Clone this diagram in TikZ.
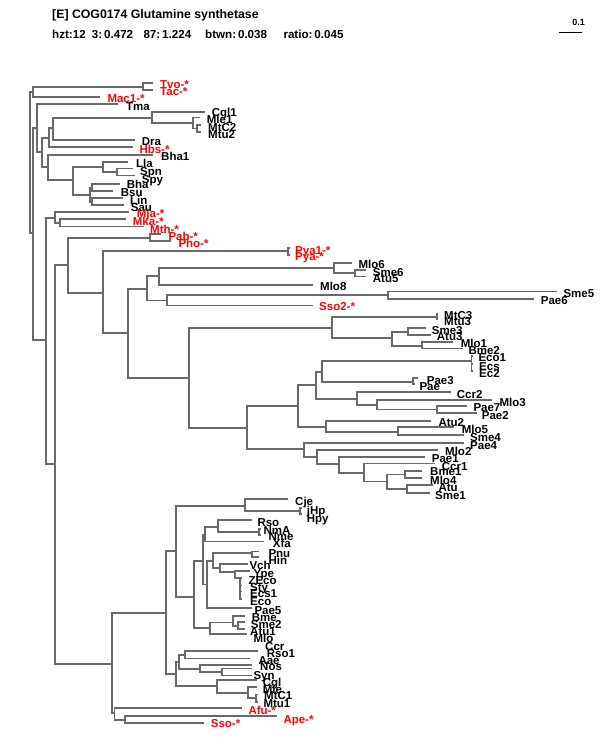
\documentclass[tikz,border=0pt]{standalone}
\usepackage{fontspec}
\setmainfont{Liberation Sans}
\definecolor{brc}{RGB}{105,105,105}
\definecolor{lred}{RGB}{255,0,0}
\tikzset{
  br/.style={draw=brc, line width=1.7pt},
  lab/.style={anchor=base west, inner sep=0pt, font=\bfseries\fontsize{11.5}{12}\selectfont},
  labr/.style={lab, text=lred},
  hdr/.style={anchor=base west, inner sep=0pt, font=\bfseries\fontsize{12.3}{14}\selectfont},
  hds/.style={anchor=base west, inner sep=0pt, font=\bfseries\fontsize{11.6}{14}\selectfont}
}
% internal node: parent, id, x, y
\newcommand\inode[4]{\coordinate (#2) at (#3,#4); \draw[br] (#1) |- (#2);}
% leaf: parent, id, xend, y, labelx, labelcy, text, style
\newcommand\leaf[8]{\coordinate (#2) at (#3,#4); \draw[br] (#1) |- (#2); \node[#8] (t#2) at (#5,#6+4) {#7};}
\begin{document}
\begin{tikzpicture}[x=1pt,y=-1pt]
\useasboundingbox (0,0) rectangle (600,750);
% header
\node[hdr] (title) at (52,18.3) {[E] COG0174 Glutamine synthetase};
\node[hds] (s1) at (52,38.3) {hzt:12};
\node[hds] (s2) at (91.7,38.3) {3:\,0.472};
\node[hds] (s3) at (143.3,38.3) {87:\,1.224};
\node[hds] (s4) at (205,38.3) {btwn:\,0.038};
\node[hds] (s5) at (283.3,38.3) {ratio:\,0.045};
\coordinate (sbA) at (559,32.3);
\coordinate (sbB) at (581.7,32.3);
\draw[black, line width=0.9pt] (sbA) -- (sbB);
\node[anchor=base east, inner sep=0pt, font=\bfseries\fontsize{9}{10}\selectfont] (sbl) at (585,25) {0.1};
% tree
\coordinate (r) at (30,162);
\inode{r}{a1}{33.3}{91.7}
\inode{a1}{tt}{142.7}{86.7}
\leaf{tt}{Tvo}{153}{83}{160}{84.3}{Tvo-*}{labr}
\leaf{tt}{Tac}{153}{90}{160}{91.5}{Tac-*}{labr}
\leaf{a1}{Mac1}{100}{96.7}{107.3}{98}{Mac1-*}{labr}
\inode{r}{a2}{33.3}{233}
\inode{a2}{a3}{36.7}{128}
\leaf{a3}{Tma}{118.3}{104.3}{126}{106.7}{Tma}{lab}
\inode{a3}{a4}{41.7}{151.7}
\inode{a4}{a5}{49.3}{138.3}
\inode{a5}{a6}{53.3}{128.3}
\inode{a6}{a7}{151.7}{117.7}
\leaf{a7}{Cgl1}{205}{111.7}{211.7}{112.8}{Cgl1}{lab}
\inode{a7}{a7b}{193.3}{123.3}
\leaf{a7b}{Mle1}{200}{117.5}{206.7}{119}{Mle1}{lab}
\inode{a7b}{a7c}{197}{128.5}
\leaf{a7c}{MtC2}{201}{125}{208}{127.3}{MtC2}{lab}
\leaf{a7c}{Mtu2}{201}{132}{208}{134.5}{Mtu2}{lab}
\leaf{a6}{Dra}{135}{140}{141.7}{141.7}{Dra}{lab}
\leaf{a5}{Hbs}{133}{146.7}{139.3}{149}{Hbs-*}{labr}
\inode{a4}{a8}{48.3}{166.7}
\leaf{a8}{Bha1}{153.3}{154.7}{161}{156.3}{Bha1}{lab}
\inode{a8}{a9}{73.3}{180}
\inode{a9}{a10}{103.3}{166.7}
\leaf{a10}{Lla}{128.3}{161.7}{136}{163.3}{Lla}{lab}
\inode{a10}{a11}{116.7}{171.7}
\leaf{a11}{Spn}{133}{168.5}{140}{171.7}{Spn}{lab}
\leaf{a11}{Spy}{134.7}{175.5}{141.7}{179.3}{Spy}{lab}
\inode{a9}{a12}{90}{195}
\inode{a12}{a13}{91.7}{187.7}
\leaf{a13}{Bha}{120}{184}{126.7}{184.3}{Bha}{lab}
\leaf{a13}{Bsu}{113.3}{191.3}{120.7}{192.7}{Bsu}{lab}
\inode{a12}{a14}{91.7}{201.7}
\leaf{a14}{Lin}{123.3}{198.3}{130}{200}{Lin}{lab}
\leaf{a14}{Sau}{124}{205}{130.7}{207.3}{Sau}{lab}
\inode{a2}{a20}{46}{340}
\inode{a20}{a21}{55}{217.7}
\leaf{a21}{Mja}{129}{212}{136.7}{213.3}{Mja-*}{labr}
\inode{a21}{a22}{60}{223}
\leaf{a22}{Mka}{126}{219.3}{132.7}{221}{Mka-*}{labr}
\leaf{a22}{Mth}{143.5}{226.5}{150}{229}{Mth-*}{labr}
\inode{a20}{a30}{55}{464}
\inode{a30}{a31}{68.3}{265}
\inode{a31}{a32}{150}{237.7}
\leaf{a32}{Pab}{161.3}{234.3}{168.3}{236.5}{Pab-*}{labr}
\leaf{a32}{Pho}{171.3}{241}{178.3}{243}{Pho-*}{labr}
\inode{a31}{a33}{103}{293}
\inode{a33}{a33p}{288.3}{251.3}
\leaf{a33p}{Pya1}{289.5}{248}{295}{250}{Pya1-*}{labr}
\leaf{a33p}{Pya}{289.5}{254.7}{295}{256.7}{Pya-*}{labr}
\inode{a33}{a34}{128}{333}
\inode{a34}{a35}{147}{289}
\inode{a35}{a36}{159}{276}
\inode{a36}{a37}{334.3}{267.7}
\leaf{a37}{Mlo6}{351.7}{263.3}{358.3}{264.5}{Mlo6}{lab}
\inode{a37}{a37b}{355}{273.3}
\leaf{a37b}{Sme6}{366}{270.3}{372.7}{272.3}{Sme6}{lab}
\leaf{a37b}{Atu5}{366}{276.5}{372.7}{278.3}{Atu5}{lab}
\leaf{a36}{Mlo8}{313.3}{284.7}{320}{286.7}{Mlo8}{lab}
\inode{a35}{a38}{167}{300.5}
\inode{a38}{a39}{388.3}{295}
\leaf{a39}{Sme5}{556.8}{291.5}{563.3}{293.3}{Sme5}{lab}
\leaf{a39}{Pae6}{534}{298.7}{540.7}{300.7}{Pae6}{lab}
\leaf{a38}{Sso2}{312.5}{305.5}{319}{306.7}{Sso2-*}{labr}
\inode{a34}{a40}{189}{378}
\inode{a40}{a41}{331.7}{327.7}
\inode{a41}{a41b}{436.7}{316.7}
\leaf{a41b}{MtC3}{438}{314}{444}{315}{MtC3}{lab}
\leaf{a41b}{Mtu3}{438}{319.5}{444}{321.7}{Mtu3}{lab}
\inode{a41}{a42}{391.7}{337.7}
\inode{a42}{a43}{408.3}{331.7}
\leaf{a43}{Sme3}{426}{328.3}{431.7}{330}{Sme3}{lab}
\leaf{a43}{Atu3}{431}{334.7}{436.7}{336.7}{Atu3}{lab}
\inode{a42}{a44}{421.7}{345.7}
\leaf{a44}{Mlo1}{453}{342.3}{460.7}{343.3}{Mlo1}{lab}
\leaf{a44}{Bme2}{463}{348.5}{468.3}{350.7}{Bme2}{lab}
\inode{a40}{a50}{247.3}{427.7}
\inode{a50}{a51}{298.3}{405.7}
\inode{a51}{a52}{316}{385}
\inode{a52}{a53}{322.3}{371.7}
\inode{a53}{a53b}{471.5}{361}
\leaf{a53b}{Eco1}{473}{356}{478.3}{357.7}{Eco1}{lab}
\leaf{a53b}{Ecs}{473}{364}{479}{366}{Ecs}{lab}
\leaf{a53b}{Ec2}{473}{371}{479}{373.3}{Ec2}{lab}
\inode{a53}{a54}{413.3}{381.7}
\leaf{a54}{Pae3}{418.3}{377.7}{426.7}{380}{Pae3}{lab}
\leaf{a54}{Pae}{414.5}{384.3}{419.3}{386.7}{Pae}{lab}
\inode{a52}{a55}{356.7}{399}
\leaf{a55}{Ccr2}{451}{391.7}{456.7}{394.3}{Ccr2}{lab}
\inode{a55}{a55b}{376.7}{405}
\leaf{a55b}{Mlo3}{492}{400.3}{499.3}{402.3}{Mlo3}{lab}
\inode{a55b}{a55c}{436.7}{409.5}
\leaf{a55c}{Pae7}{467}{406}{473.3}{407.5}{Pae7}{lab}
\leaf{a55c}{Pae2}{476.7}{413}{481.7}{415}{Pae2}{lab}
\inode{a51}{a56}{326}{426.7}
\leaf{a56}{Atu2}{431}{420.7}{438.3}{422.7}{Atu2}{lab}
\inode{a56}{a57}{398.3}{431.7}
\leaf{a57}{Mlo5}{454}{427.3}{461.7}{429.3}{Mlo5}{lab}
\leaf{a57}{Sme4}{464}{435.3}{470}{437.3}{Sme4}{lab}
\inode{a50}{a58}{304}{449.3}
\leaf{a58}{Pae4}{464}{443}{470}{445}{Pae4}{lab}
\inode{a58}{a61}{317.3}{457.3}
\leaf{a61}{Mlo2}{438.3}{449.7}{445}{451.7}{Mlo2}{lab}
\inode{a61}{a62}{339}{464.3}
\leaf{a62}{Pae1}{425}{456.7}{431.7}{458.3}{Pae1}{lab}
\inode{a62}{a63}{364}{472.7}
\leaf{a63}{Ccr1}{435}{463.5}{441.7}{466}{Ccr1}{lab}
\inode{a63}{a64}{386.7}{481.5}
\inode{a64}{a65}{405}{474.5}
\leaf{a65}{Bme1}{422}{471}{430}{471.7}{Bme1}{lab}
\leaf{a65}{Mlo4}{422}{478}{430}{480}{Mlo4}{lab}
\inode{a64}{a66}{407.3}{488.7}
\leaf{a66}{Atu}{433}{485.3}{438.3}{487.3}{Atu}{lab}
\leaf{a66}{Sme1}{430}{492.7}{435}{495}{Sme1}{lab}
% lower half
\inode{a30}{a60}{112}{664}
\inode{a60}{b1}{166}{613}
\inode{b1}{b2}{175.7}{551}
\inode{b2}{b3}{245}{505.7}
\leaf{b3}{Cje}{288.3}{499.3}{295}{501}{Cje}{lab}
\inode{b3}{b4}{300}{511}
\leaf{b4}{jHp}{301.5}{508}{306.7}{510}{jHp}{lab}
\leaf{b4}{Hpy}{301.5}{514}{306.7}{518.3}{Hpy}{lab}
\inode{b2}{b10}{194.3}{597}
\inode{b10}{b11}{202.7}{560.7}
\inode{b11}{b12}{205}{534.5}
\inode{b12}{b13}{218.3}{526.7}
\leaf{b13}{Rso}{252}{520.3}{257.3}{522.3}{Rso}{lab}
\inode{b13}{b14}{259}{532}
\leaf{b14}{NmA}{260.5}{529}{263.3}{530}{NmA}{lab}
\leaf{b14}{Nme}{260.5}{535}{268.3}{536.7}{Nme}{lab}
\leaf{b12}{Xfa}{264}{541.5}{272.7}{543.3}{Xfa}{lab}
\inode{b11}{b20}{206.7}{584.5}
\inode{b20}{b21}{213.3}{561}
\inode{b21}{b22}{251.7}{553.3}
\leaf{b22}{Pnu}{259}{551.5}{268.3}{553.3}{Pnu}{lab}
\leaf{b22}{Hin}{259}{557}{268.3}{560}{Hin}{lab}
\inode{b21}{b23}{220}{568.3}
\leaf{b23}{Vch}{248.3}{564.3}{249.3}{565.5}{Vch}{lab}
\inode{b23}{b24}{235}{572.3}
\leaf{b24}{Ype}{250}{571}{253.3}{573.3}{Ype}{lab}
\inode{b24}{b25}{240}{578.3}
\leaf{b25}{ZEco}{241.7}{578.3}{248.3}{580}{ZEco}{lab}
\leaf{b25}{Sty}{241.7}{585.5}{250}{587.7}{Sty}{lab}
\leaf{b25}{Ecsa}{241.7}{591.5}{250}{593.3}{Ecs1}{lab}
\leaf{b25}{Eco}{241.7}{599}{250}{601.7}{Eco}{lab}
\leaf{b20}{Pae5}{251.7}{607.7}{254.3}{610}{Pae5}{lab}
\inode{b10}{b30}{210}{628}
\inode{b30}{b31}{233.3}{622.5}
\leaf{b31}{Bme}{245}{615.7}{251.7}{617.7}{Bme}{lab}
\inode{b31}{b32}{238}{626}
\leaf{b32}{Sme2}{245}{622.3}{250.7}{624.3}{Sme2}{lab}
\leaf{b32}{Atu1}{245}{629}{250}{631}{Atu1}{lab}
\leaf{b30}{Mlo}{247}{634.3}{253.3}{638.3}{Mlo}{lab}
\inode{b1}{b40}{175.7}{674}
\inode{b40}{b41}{179}{661.7}
\inode{b41}{b42}{185}{655}
\leaf{b42}{Ccr}{258}{650.7}{265}{646.7}{Ccr}{lab}
\leaf{b42}{Rso1}{250}{658.5}{266.7}{653.3}{Rso1}{lab}
\inode{b41}{b43}{200}{669}
\leaf{b43}{Aae}{251.7}{665}{258.3}{660}{Aae}{lab}
\inode{b43}{b44}{221.7}{672.3}
\leaf{b44}{Nos}{251.7}{668.5}{260}{666.7}{Nos}{lab}
\leaf{b44}{Syn}{251.7}{675.5}{253.3}{675}{Syn}{lab}
\inode{b40}{b45}{216.7}{686}
\leaf{b45}{Cgl}{256.7}{680}{262.7}{682.3}{Cgl}{lab}
\inode{b45}{b46}{248.3}{693.3}
\leaf{b46}{Mle}{256.7}{686.7}{262.7}{689}{Mle}{lab}
\inode{b46}{b47}{256}{698.3}
\leaf{b47}{MtC1}{257.5}{694.5}{264}{695.7}{MtC1}{lab}
\leaf{b47}{Mtu1}{257.5}{701.7}{263.3}{703.3}{Mtu1}{lab}
\inode{a60}{b50}{114.5}{713.3}
\leaf{b50}{Afu}{242}{708.3}{248.3}{710}{Afu-*}{labr}
\inode{b50}{b51}{125}{720}
\leaf{b51}{Ape}{277}{716}{283.3}{719}{Ape-*}{labr}
\leaf{b51}{Sso}{204}{723.3}{210.7}{723.5}{Sso-*}{labr}
\end{tikzpicture}
\end{document}
